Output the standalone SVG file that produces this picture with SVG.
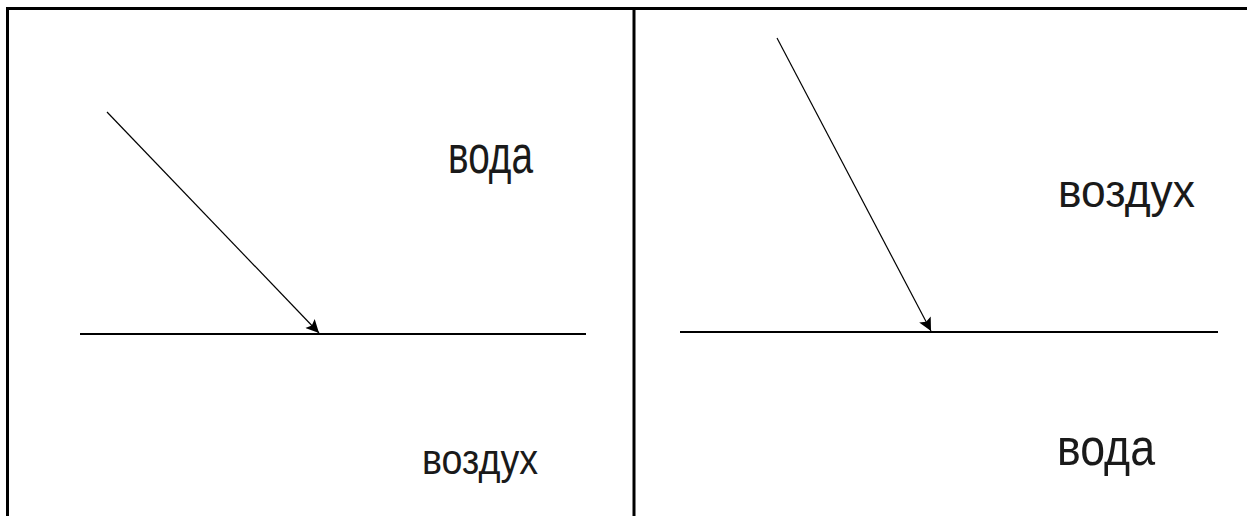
<svg xmlns="http://www.w3.org/2000/svg" width="1247" height="516" viewBox="0 0 1247 516">
<style>
.frame{stroke:#000;stroke-width:3;fill:none}
.surf{stroke:#000;stroke-width:2}
.ray{stroke:#000;stroke-width:1.2}
.lbl{font-family:"Liberation Sans",Arial,sans-serif;fill:#1a1a1a}
</style>
<defs>
<marker id="ah" viewBox="0 0 10 10" refX="10" refY="5" markerWidth="20" markerHeight="13" markerUnits="userSpaceOnUse" orient="auto">
<path d="M0,0 L10,5 L0,10 L2,5 z" fill="#000"/>
</marker>
</defs>
<rect width="1247" height="516" fill="#fff"/>
<g id="frame">
<line class="frame" x1="7" y1="8.5" x2="1247" y2="8.5"/>
<line class="frame" x1="7.5" y1="7" x2="7.5" y2="516"/>
<line class="frame" x1="634" y1="7" x2="634" y2="516"/>
</g>
<g id="left-panel">
<line class="surf" x1="80" y1="334" x2="586" y2="334"/>
<text class="lbl" x="448" y="173" font-size="54" textLength="85" lengthAdjust="spacingAndGlyphs">вода</text>
<text class="lbl" x="422" y="474" font-size="42" textLength="116" lengthAdjust="spacingAndGlyphs">воздух</text>
</g>
<g id="right-panel">
<line class="surf" x1="680" y1="332" x2="1218" y2="332"/>
<text class="lbl" x="1058" y="207" font-size="46" textLength="137" lengthAdjust="spacingAndGlyphs">воздух</text>
<text class="lbl" x="1057" y="465" font-size="52" textLength="98" lengthAdjust="spacingAndGlyphs">вода</text>
</g>
<g id="connectors">
<line class="ray" x1="107" y1="112" x2="319" y2="333" marker-end="url(#ah)"/>
<line class="ray" x1="777" y1="38" x2="931" y2="331" marker-end="url(#ah)"/>
</g>
</svg>
